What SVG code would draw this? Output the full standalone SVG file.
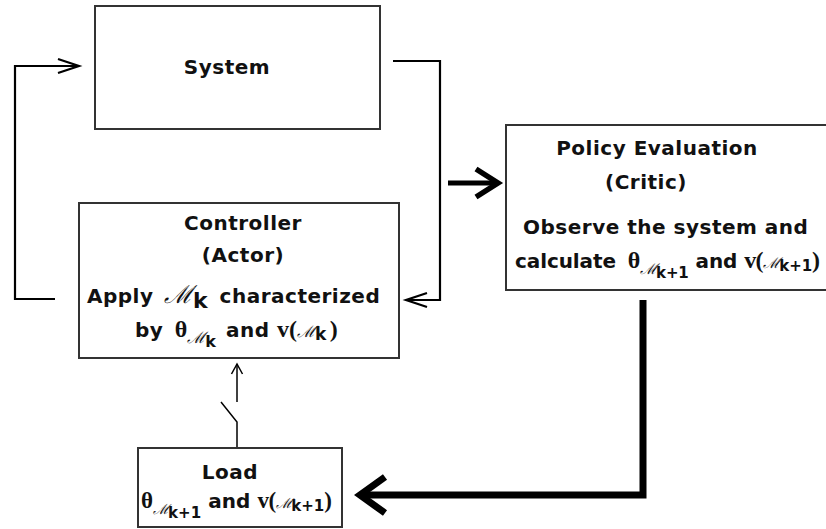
<svg xmlns="http://www.w3.org/2000/svg" width="826" height="529" viewBox="0 0 826 529">
<style>
.box{fill:#fff;stroke:#333;stroke-width:2}
.t{font-family:"DejaVu Sans","Verdana",sans-serif;font-weight:bold;font-size:20px;fill:#111;letter-spacing:0.5px}
.m{font-family:"DejaVu Serif","Liberation Serif",serif;font-weight:normal;font-style:italic;letter-spacing:0}
.s{font-family:"Liberation Serif","DejaVu Serif",serif;font-weight:bold;letter-spacing:0}
.thin{fill:none;stroke:#000;stroke-width:2.2}
.mid{fill:none;stroke:#000;stroke-width:5}
.thick{fill:none;stroke:#000;stroke-width:7}
</style>
<defs>
<marker id="aThin" markerUnits="userSpaceOnUse" viewBox="-30 -15 35 30" markerWidth="35" markerHeight="30" refX="0" refY="0" orient="auto" overflow="visible">
<path d="M-21,-7 L0,0 L-21,7" fill="none" stroke="#000" stroke-width="2.2"/>
</marker>
<marker id="aSmall" markerUnits="userSpaceOnUse" viewBox="-30 -15 35 30" markerWidth="35" markerHeight="30" refX="0" refY="0" orient="auto" overflow="visible">
<path d="M-10,-5.5 L0,0 L-10,5.5" fill="none" stroke="#000" stroke-width="1.5"/>
</marker>
<marker id="aMid" markerUnits="userSpaceOnUse" viewBox="-30 -20 35 40" markerWidth="35" markerHeight="40" refX="0" refY="0" orient="auto" overflow="visible">
<path d="M-22,-14 L0,0 L-22,14" fill="none" stroke="#000" stroke-width="5.5"/>
</marker>
<marker id="aThick" markerUnits="userSpaceOnUse" viewBox="-30 -25 35 50" markerWidth="35" markerHeight="50" refX="0" refY="0" orient="auto" overflow="visible">
<path d="M-25,-18 L0,0 L-25,18" fill="none" stroke="#000" stroke-width="7"/>
</marker>
</defs>
<rect width="826" height="529" fill="#fff"/>

<g id="connectors">
<path class="thin" d="M55,299 H15 V66 H79" marker-end="url(#aThin)"/>
<path class="thin" d="M393,61 H440 V300 H406" marker-end="url(#aThin)"/>
<path class="mid" d="M448,183 H498" marker-end="url(#aMid)"/>
<path class="thick" d="M643,300 V495 H360" marker-end="url(#aThick)"/>
<path d="M237,447 V422 L221,402" fill="none" stroke="#000" stroke-width="1.5"/>
<path d="M237,402 V364" fill="none" stroke="#000" stroke-width="1.5" marker-end="url(#aSmall)"/>
</g>

<g id="system">
<rect class="box" x="95" y="6" width="285" height="123"/>
<text class="t" x="227" y="74" text-anchor="middle">System</text>
</g>

<g id="controller">
<rect class="box" x="79" y="203" width="320" height="155"/>
<text class="t" x="243" y="230" text-anchor="middle">Controller</text>
<text class="t" x="243" y="262" text-anchor="middle">(Actor)</text>
<text class="t" x="87" y="303">Apply <tspan class="m" font-size="25" dx="3">ℳ</tspan><tspan dy="5" font-size="22">k</tspan><tspan dy="-5" dx="4"> characterized</tspan></text>
<text class="t" x="135" y="337">by <tspan class="s" font-size="24" dx="4">θ</tspan><tspan class="m" font-size="16" dy="6">ℳ</tspan><tspan font-size="16" dy="4">k</tspan><tspan dy="-10" dx="2"> and </tspan><tspan class="s" font-size="24">v(</tspan><tspan class="m" font-size="16">ℳ</tspan><tspan font-size="17" dy="3">k</tspan><tspan class="s" font-size="24" dy="-3" dx="3">)</tspan></text>
</g>

<g id="policy">
<rect class="box" x="506" y="125" width="340" height="165"/>
<text class="t" x="657" y="155" text-anchor="middle">Policy Evaluation</text>
<text class="t" x="646" y="189" text-anchor="middle">(Critic)</text>
<text class="t" x="523" y="234">Observe the system and</text>
<text class="t" x="515" y="268" textLength="305" lengthAdjust="spacing">calculate <tspan class="s" font-size="24" dx="5">θ</tspan><tspan class="m" font-size="15" dy="6">ℳ</tspan><tspan font-size="15" dy="4">k+1</tspan><tspan dy="-10"> and </tspan><tspan class="s" font-size="24">v(</tspan><tspan class="m" font-size="15">ℳ</tspan><tspan font-size="15" dy="3">k+1</tspan><tspan class="s" font-size="24" dy="-3">)</tspan></text>
</g>

<g id="load">
<rect class="box" x="138" y="448" width="204" height="79"/>
<text class="t" x="230" y="479" text-anchor="middle">Load</text>
<text class="t" x="141" y="508" textLength="191" lengthAdjust="spacing"><tspan class="s" font-size="23">θ</tspan><tspan class="m" font-size="14" dy="6">ℳ</tspan><tspan font-size="15" dy="4">k+1</tspan><tspan dy="-10"> and </tspan><tspan class="s" font-size="23">v(</tspan><tspan class="m" font-size="14">ℳ</tspan><tspan font-size="15" dy="3">k+1</tspan><tspan class="s" font-size="23" dy="-3">)</tspan></text>
</g>
</svg>
